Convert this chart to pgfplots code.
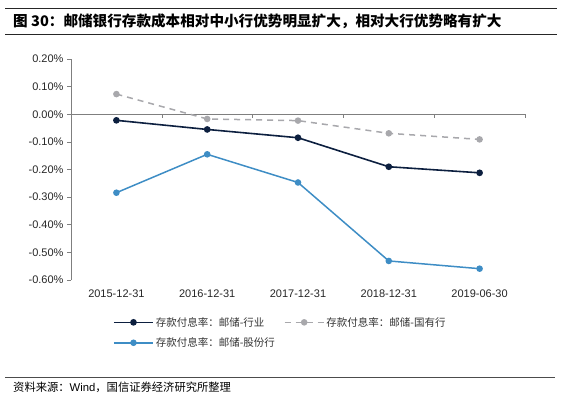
\documentclass[border=0pt]{standalone}
\usepackage{fontspec}
\setmainfont{Liberation Sans}
\newfontfamily\cjk{Noto Sans CJK SC}
\usepackage{pgfplots}
\pgfplotsset{compat=1.18}
\definecolor{navy}{HTML}{0C1F3F}
\definecolor{lgray}{HTML}{A8A8AC}
\definecolor{lblue}{HTML}{3E8DC5}
\definecolor{axgray}{HTML}{7F7F7F}
\begin{document}
\begin{tikzpicture}
\path (0pt,0pt) rectangle (570pt,-397pt);
\draw[line width=1pt, black!85] (5pt,-8pt) -- (557pt,-8pt);
\draw[line width=1pt, black!85] (5pt,-34pt) -- (557pt,-34pt);
\node[anchor=west, inner sep=0pt, font=\cjk\bfseries\fontsize{14.6}{16}\selectfont] at (13pt,-21pt) {图 30：邮储银行存款成本相对中小行优势明显扩大，相对大行优势略有扩大};
\draw[line width=0.6pt, black!70] (5pt,-377pt) -- (555pt,-377pt);
\node[anchor=west, inner sep=0pt, font=\fontsize{11.3}{13}\selectfont] at (13pt,-387pt) {{\cjk 资料来源：}Wind{\cjk ，国信证券经济研究所整理}};
\begin{axis}[
  at={(71pt,-280pt)}, anchor=south west, scale only axis,
  width=454pt, height=221pt,
  xmin=-0.5, xmax=4.5, ymin=-0.6, ymax=0.2,
  axis x line*=bottom, axis y line*=left,
  x axis line style={draw=none},
  y axis line style={draw=axgray, line width=0.6pt},
  xtick={0,1,2,3,4},
  xticklabels={2015-12-31,2016-12-31,2017-12-31,2018-12-31,2019-06-30},
  xtick style={draw=none},
  ytick={-0.6,-0.5,-0.4,-0.3,-0.2,-0.1,0,0.1,0.2},
  ytick style={draw=axgray, line width=0.6pt},
  tick align=outside, major tick length=4pt,
  /pgf/number format/assume math mode=true,
  yticklabel={\pgfmathprintnumber[fixed,fixed zerofill,precision=2]{\tick}\%},
  ticklabel style={font=\fontsize{11}{13}\selectfont, text=black!85},
  xticklabel style={yshift=-2pt},
  legend columns=2,
  legend style={at={(axis description cs:0.0925,-0.158)}, anchor=north west,
    draw=none, fill=none, inner sep=0pt, row sep=6pt,
    font=\cjk\fontsize{10.5}{12}\selectfont, text=black!80,
    /tikz/every even column/.append style={column sep=7pt}},
  legend cell align=left,
  legend image code/.code={\draw[mark repeat=2,mark phase=2] plot coordinates {(0pt,0pt) (19.5pt,0pt) (39pt,0pt)};},
  clip=false,
]
\draw[axgray, line width=0.6pt] (axis cs:-0.5,0) -- (axis cs:4.5,0);
\pgfplotsinvokeforeach{0.5,1.5,2.5,3.5,4.5}{\draw[axgray, line width=0.6pt] (axis cs:#1,0) -- ++(0pt,-4pt);}
\addplot[navy, line width=1.6pt, mark=*, mark size=2.5pt] coordinates {(0,-0.022) (1,-0.055) (2,-0.085) (3,-0.190) (4,-0.212)};
\addlegendentry{存款付息率：邮储-行业}
\addplot[lgray, line width=1.5pt, dash pattern=on 6pt off 5pt, mark=*, mark size=2.5pt, mark options={solid}] coordinates {(0,0.073) (1,-0.017) (2,-0.023) (3,-0.069) (4,-0.091)};
\addlegendentry{存款付息率：邮储-国有行}
\addplot[lblue, line width=1.5pt, mark=*, mark size=2.5pt] coordinates {(0,-0.284) (1,-0.145) (2,-0.247) (3,-0.531) (4,-0.559)};
\addlegendentry{存款付息率：邮储-股份行}
\end{axis}
\end{tikzpicture}
\end{document}
